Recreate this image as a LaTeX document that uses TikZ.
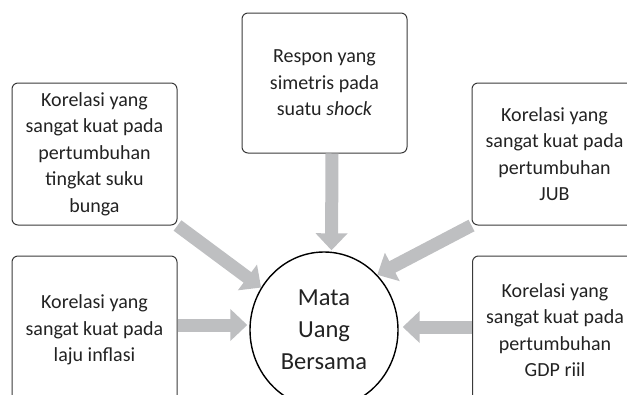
\documentclass[tikz,border=0pt]{standalone}
\usepackage{fontspec}
\setmainfont{Carlito}
\usetikzlibrary{arrows.meta,shapes.geometric}
\definecolor{arrowgray}{HTML}{BEBFC1}
\definecolor{boxline}{HTML}{3A3A3A}
\definecolor{txt}{HTML}{222222}
\begin{document}
\begin{tikzpicture}[x=1pt, y=-1pt, line join=round,
  font=\fontsize{20}{26.5}\selectfont, text=txt,
  box/.style={draw=boxline, line width=1pt, rounded corners=6pt, align=center,
    minimum width=165pt, inner sep=0pt},
  bigarrow/.style={draw=arrowgray, line width=13pt,
    -{Triangle[length=17pt,width=31pt]}}]
\useasboundingbox (0,0) rectangle (627,394);
\clip (0,0) rectangle (627,394);
\node[box, minimum height=140pt] (shock) at (324.5,83) {Respon yang\\simetris pada\\suatu \textit{shock}};
\node[box, minimum height=142pt] (suku) at (94.5,154) {Korelasi yang\\sangat kuat pada\\pertumbuhan\\tingkat suku\\bunga};
\node[box, minimum height=142pt] (jub) at (554.5,154) {Korelasi yang\\sangat kuat pada\\pertumbuhan\\JUB};
\node[box, minimum height=148pt] (inflasi) at (94.5,330) {Korelasi yang\\sangat kuat pada\\laju inflasi};
\node[box, minimum height=148pt] (gdp) at (555,330) {Korelasi yang\\sangat kuat pada\\pertumbuhan\\GDP riil};
\node[ellipse, draw=black, line width=1.4pt, minimum width=148pt, minimum height=156pt,
  inner sep=0pt, align=center, font=\fontsize{24.5}{32}\selectfont] (mata) at (324,330) {Mata\\Uang\\Bersama};
\draw[bigarrow] ([xshift=7.5pt]shock.south) -- ([xshift=7.5pt,yshift=1pt]mata.north);
\draw[bigarrow] (suku.south east) -- (mata.146);
\draw[bigarrow] (jub.south west) -- (mata.46);
\draw[bigarrow] ([yshift=5pt]inflasi.east) -- ([xshift=-2pt,yshift=5pt]mata.west);
\draw[bigarrow] ([yshift=3pt]gdp.west) -- ([xshift=4pt,yshift=3pt]mata.east);
\end{tikzpicture}
\end{document}
